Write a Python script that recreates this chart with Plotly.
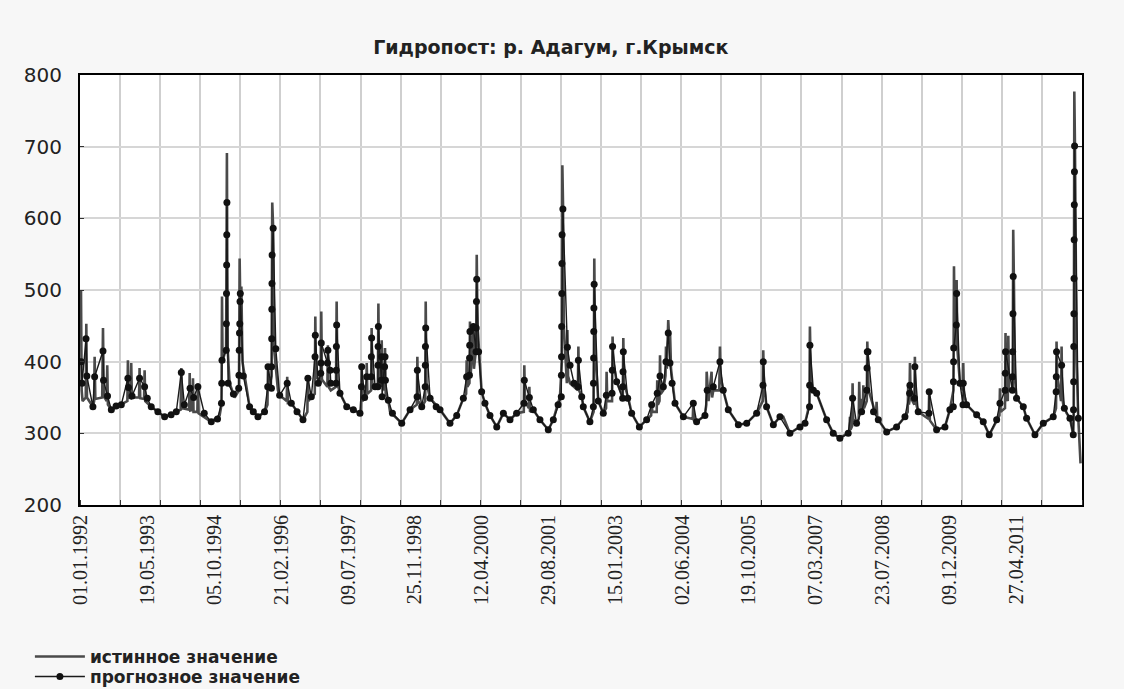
import plotly.graph_objects as go

# x values are day numbers counted from 01.01.1992
label_days = [0, 504, 1008, 1512, 2016, 2520, 3024, 3528, 4032, 4536, 5040, 5544, 6048, 6552, 7056]
label_text = ["01.01.1992", "19.05.1993", "05.10.1994", "21.02.1996", "09.07.1997",
              "25.11.1998", "12.04.2000", "29.08.2001", "15.01.2003", "02.06.2004",
              "19.10.2005", "07.03.2007", "23.07.2008", "09.12.2009", "27.04.2011"]

true_day = [
    0, 5, 12, 36, 40, 45, 90, 99, 103, 108, 160, 166, 172, 194, 198, 203, 229, 304,
    350, 354, 359, 376, 379, 384, 438, 442, 447, 476, 480, 485, 530, 631, 719,
    752, 757, 762, 816, 820, 825, 842, 845, 849, 878, 882, 887, 983, 1046,
    1060, 1064, 1068, 1095, 1101, 1106, 1121, 1159, 1192, 1197, 1202, 1210, 1218,
    1272, 1335, 1385, 1407, 1411, 1416, 1438, 1443, 1450, 1456, 1486, 1499,
    1552, 1556, 1561, 1587, 1675, 1708, 1712, 1717, 1738, 1764, 1768, 1773,
    1809, 1813, 1818, 1859, 1863, 1868,
    1885, 1924, 1929, 1935, 1954, 2005, 2055, 2105, 2114, 2118, 2123, 2152, 2156, 2161,
    2189, 2193, 2198, 2219, 2240, 2244, 2249, 2265, 2269, 2274, 2290, 2294, 2299,
    2319, 2332, 2420, 2483, 2534, 2538, 2543, 2571, 2597, 2601, 2607, 2634, 2709,
    2784, 2835, 2885, 2906, 2910, 2915, 2931, 2935, 2940, 2960, 2965, 2982, 2986, 2992,
    3023, 3048, 3086, 3137, 3187, 3237, 3287, 3341, 3345, 3350, 3379, 3383, 3388,
    3413, 3463, 3526, 3564, 3614, 3628, 3632, 3637, 3643, 3666, 3670, 3675, 3690,
    3749, 3753, 3758, 3778,
    3790, 3840, 3868, 3873, 3879, 3903, 3941, 3962, 3966, 3971, 4007, 4011, 4016, 4042,
    4088, 4092, 4097, 4130, 4155, 4213, 4268, 4302, 4306, 4311, 4344, 4348, 4353,
    4365, 4369, 4374, 4394, 4410, 4414, 4420, 4431, 4436, 4445, 4452, 4482, 4545,
    4616, 4620, 4625, 4645, 4708, 4718, 4721, 4735, 4758, 4762, 4771, 4816, 4821, 4826,
    4846, 4884, 4960, 5023, 5098, 5144, 5148, 5153, 5173, 5224, 5274, 5299, 5349,
    5425, 5463, 5496, 5500, 5505, 5510, 5526, 5551, 5626, 5676,
    5726, 5789, 5798, 5802, 5806, 5818, 5822, 5827, 5852, 5868, 5872, 5877, 5890,
    5899, 5903, 5908, 5929, 5933, 5938, 5943, 5999, 6003, 6008, 6016, 6079, 6154,
    6217, 6238, 6242, 6247, 6251, 6255, 6260, 6288, 6292, 6297, 6317, 6396, 6400, 6405,
    6456, 6519, 6556, 6583, 6587, 6592, 6603, 6607, 6612, 6632, 6653, 6657, 6662,
    6682, 6758, 6808, 6853, 6909, 6930, 6934, 6939, 6972, 6976, 6981, 6993, 6997, 7002,
    7030, 7034, 7040, 7046, 7059, 7110, 7135, 7198, 7261, 7336, 7357, 7361, 7366,
    7395, 7399, 7404, 7412, 7437, 7462, 7487, 7491, 7495, 7500, 7506, 7512, 7525, 7542,
]
true_value = [
    500, 360, 345, 350, 453, 350, 337, 345, 407, 348, 350, 447, 352, 345, 395, 340, 333, 340,
    345, 402, 350, 349, 398, 350, 350, 391, 349, 348, 388, 345, 337, 323, 330,
    333, 391, 335, 333, 384, 332, 333, 377, 330, 330, 370, 328, 316, 325,
    340, 491, 400, 420, 691, 420, 370, 350, 360, 544, 480, 505, 400,
    337, 323, 330, 340, 391, 360, 380, 622, 586, 420, 360, 353,
    345, 379, 342, 342, 319, 330, 381, 345, 351, 355, 463, 380,
    370, 470, 375, 365, 423, 365,
    360, 365, 484, 370, 356, 337, 333, 328, 330, 395, 345, 350, 398, 355,
    360, 447, 370, 365, 370, 481, 375, 365, 430, 370, 360, 419, 355,
    346, 330, 314, 333, 340, 407, 345, 337, 345, 484, 370, 349, 333,
    314, 325, 349, 355, 402, 365, 370, 456, 380, 449, 390, 420, 549, 450,
    358, 342, 325, 309, 328, 319, 328, 330, 395, 345, 335, 365, 330,
    333, 319, 305, 319, 351, 400, 674, 620, 450, 370, 444, 380, 370,
    360, 421, 360, 351,
    337, 316, 330, 544, 420, 345, 328, 335, 386, 345, 345, 435, 400, 372,
    350, 433, 370, 349, 328, 309, 319, 325, 344, 330, 330, 374, 340,
    345, 409, 355, 360, 380, 421, 390, 458, 440, 439, 390, 342, 323,
    320, 342, 318, 316, 325, 340, 386, 345, 386, 350, 360, 360, 421, 380,
    360, 333, 312, 314, 328, 345, 416, 370, 337, 312, 323, 323, 300,
    309, 314, 340, 449, 400, 367, 360, 356, 319, 300,
    293, 300, 302, 323, 305, 310, 370, 320, 314, 320, 372, 330, 348,
    330, 367, 335, 345, 428, 400, 360, 325, 344, 322, 319, 302, 309,
    323, 330, 370, 340, 345, 398, 350, 340, 407, 345, 330, 320, 358, 318,
    305, 309, 333, 360, 533, 450, 420, 514, 420, 370, 360, 398, 355,
    340, 326, 316, 298, 319, 325, 363, 330, 335, 440, 350, 345, 436, 360,
    360, 584, 500, 380, 349, 337, 321, 298, 314, 323, 335, 428, 380,
    345, 421, 350, 340, 328, 321, 298, 330, 777, 700, 560, 400, 321, 258,
]

fc_day = [
    2, 8, 38, 44, 90, 103, 166, 170, 200, 229, 265, 304, 354, 358, 385, 442, 480, 500,
    530, 580, 631, 680, 719, 757, 780, 823, 850, 882, 930, 983, 1030, 1060, 1062, 1064,
    1096, 1097, 1098, 1099, 1100, 1101, 1110, 1150, 1190, 1192, 1194, 1196, 1198, 1200, 1202,
    1225, 1272, 1300, 1335, 1385, 1409, 1411, 1437, 1438, 1439, 1440, 1441, 1442, 1450,
    1470, 1499, 1556, 1587, 1630, 1675, 1712, 1738, 1766, 1768, 1790, 1809, 1811, 1813,
    1860, 1863, 1880, 1885, 1925, 1926, 1927, 1929, 1954, 2005, 2055, 2105, 2116, 2118,
    2140, 2156, 2190, 2191, 2193, 2219, 2240, 2241, 2242, 2244, 2266, 2269, 2272,
    2291, 2294, 2297, 2319, 2350, 2420, 2483, 2536, 2538, 2571, 2597, 2598, 2599, 2601,
    2634, 2680, 2709, 2784, 2835, 2885, 2910, 2931, 2932, 2933, 2935, 2960, 2981, 2982,
    2984, 2986, 3000, 3023, 3048, 3086, 3137, 3187, 3237, 3287, 3342, 3345, 3383, 3413,
    3463, 3526, 3564, 3600, 3624, 3625, 3626, 3627, 3628, 3629, 3630, 3636, 3670, 3690,
    3720, 3750, 3753, 3778, 3790, 3840, 3866, 3867, 3868, 3869, 3870, 3872, 3903, 3941,
    3964, 4007, 4009, 4011, 4042, 4087, 4088, 4090, 4092, 4125, 4155, 4213, 4268, 4306,
    4348, 4369, 4394, 4414, 4431, 4444, 4460, 4482, 4545, 4620, 4645, 4708, 4725, 4771,
    4821, 4846, 4884, 4960, 5023, 5098, 5146, 5148, 5173, 5224, 5274, 5349, 5425, 5463,
    5497, 5498, 5500, 5526, 5551, 5626, 5676, 5726, 5789, 5822, 5852, 5890, 5929, 5931,
    5933, 5938, 5980, 6016, 6079, 6154, 6217, 6252, 6255, 6289, 6292, 6317, 6398, 6400,
    6456, 6519, 6556, 6582, 6583, 6584, 6585, 6605, 6607, 6632, 6655, 6657, 6682, 6758,
    6808, 6853, 6909, 6934, 6973, 6974, 6976, 7028, 7029, 7030, 7032, 7034, 7059, 7110,
    7135, 7198, 7261, 7336, 7358, 7359, 7361, 7399, 7420, 7462, 7487, 7489, 7490, 7491,
    7492, 7493, 7494, 7495, 7496, 7497, 7525,
]
fc_value = [
    400, 370, 432, 380, 337, 379, 415, 374, 352, 333, 338, 340, 377, 364, 352, 377, 365, 349,
    337, 330, 323, 326, 330, 385, 340, 363, 350, 365, 328, 316, 320, 342, 370, 402,
    416, 453, 495, 535, 577, 622, 370, 355, 363, 381, 416, 440, 453, 484, 495,
    380, 337, 330, 323, 330, 365, 393, 363, 393, 432, 473, 509, 549, 586,
    418, 353, 370, 342, 330, 319, 377, 351, 407, 437, 370, 384, 398, 426,
    398, 416, 388, 370, 370, 388, 421, 451, 356, 337, 333, 328, 365, 393,
    350, 379, 379, 407, 433, 365, 365, 395, 421, 449, 374, 407, 351,
    393, 407, 374, 346, 328, 314, 333, 351, 388, 337, 365, 395, 421, 447,
    349, 337, 333, 314, 325, 349, 379, 381, 405, 423, 442, 449, 414, 447,
    484, 515, 414, 358, 342, 325, 309, 328, 319, 328, 342, 374, 350, 333,
    319, 305, 319, 340, 351, 381, 407, 449, 495, 537, 577, 613, 420, 395,
    370, 365, 402, 351, 337, 316, 337, 370, 405, 442, 475, 508, 345, 328,
    353, 356, 388, 421, 372, 349, 365, 386, 414, 349, 328, 309, 319, 340,
    356, 380, 365, 400, 440, 398, 370, 342, 323, 342, 316, 325, 360, 365,
    400, 360, 333, 312, 314, 328, 367, 400, 337, 312, 323, 300, 309, 314,
    337, 367, 423, 360, 356, 319, 300, 293, 300, 349, 314, 330, 360, 391,
    414, 414, 330, 319, 302, 309, 323, 356, 367, 349, 393, 330, 328, 358,
    305, 309, 333, 337, 372, 400, 419, 451, 495, 370, 340, 370, 340, 326,
    316, 298, 319, 342, 360, 384, 414, 360, 379, 414, 467, 519, 349, 337,
    321, 298, 314, 323, 358, 379, 414, 395, 335, 321, 298, 333, 372, 421,
    467, 516, 570, 619, 665, 701, 321,
]

fig = go.Figure()
fig.add_trace(go.Scatter(
    x=true_day, y=true_value, mode="lines", name="истинное значение",
    line=dict(color="#4a4a4a", width=2.6), legend="legend",
))
fig.add_trace(go.Scatter(
    x=fc_day, y=fc_value, mode="lines+markers", name="прогнозное значение",
    line=dict(color="#1a1a1a", width=1.4),
    marker=dict(size=7, color="#111111"), legend="legend2",
))

legend_font = dict(family="DejaVu Sans", size=17, color="#222", weight="bold")
x_start, x_end = -7.5, 7553
fig.update_layout(
    width=1124, height=689,
    margin=dict(l=80, r=42, t=75, b=184, autoexpand=False),
    paper_bgcolor="#f7f7f7",
    plot_bgcolor="white",
    title=dict(
        text="Гидропост: р. Адагум, г.Крымск",
        x=0.49, xref="container", xanchor="center",
        y=1 - 47 / 689, yref="container", yanchor="middle",
        font=dict(family="DejaVu Sans", size=19, color="#222", weight="bold"),
    ),
    showlegend=True,
    legend=dict(
        x=-0.05, y=(505 - 657) / 430, xanchor="left", yanchor="middle",
        bgcolor="rgba(0,0,0,0)", itemwidth=50, font=legend_font,
    ),
    legend2=dict(
        x=-0.05, y=(505 - 677) / 430, xanchor="left", yanchor="middle",
        bgcolor="rgba(0,0,0,0)", itemwidth=50, font=legend_font,
    ),
    xaxis=dict(
        range=[x_start, x_end],
        tickmode="array", tickvals=label_days, ticktext=label_text,
        tickangle=-90, ticks="", showgrid=False, zeroline=False,
        showline=True, linecolor="black", linewidth=2, mirror=True,
        tickfont=dict(family="Liberation Sans Narrow", size=20, color="#222"),
        minor=dict(
            tickmode="linear", tick0=x_start, dtick=(x_end - x_start) / 25,
            ticks="inside", ticklen=5, tickcolor="#333", tickwidth=1,
            showgrid=True, gridcolor="#cfcfcf", gridwidth=1.5,
        ),
    ),
    yaxis=dict(
        range=[200, 800], dtick=100, tick0=200,
        ticks="inside", ticklen=4, tickcolor="#333",
        showgrid=True, gridcolor="#d6d6d6", gridwidth=1.5, zeroline=False,
        showline=True, linecolor="black", linewidth=2, mirror="allticks",
        ticklabelstandoff=12,
        tickfont=dict(family="DejaVu Sans", size=20, color="#222"),
    ),
)

fig.write_html(
    "out.html",
    config={"displayModeBar": False},
    post_script="document.body.style.margin='0';document.body.style.background='#f7f7f7';",
)
